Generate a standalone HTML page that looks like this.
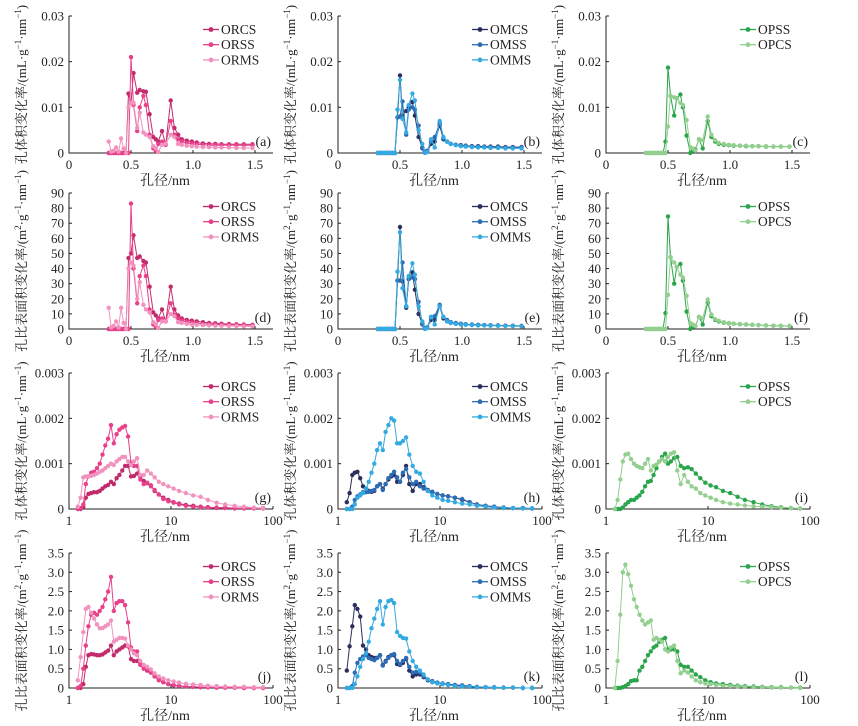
<!DOCTYPE html>
<html><head><meta charset="utf-8">
<style>
html,body{margin:0;padding:0;background:#fff;}
svg{display:block;}
text{font-family:"Liberation Serif","Noto Serif CJK SC",serif;fill:#231f20;}
</style></head>
<body>
<svg id="fig" width="858" height="726" viewBox="0 0 858 726" xmlns="http://www.w3.org/2000/svg"></svg>
<script>
// ---------- sub-nanometer pore sizes (nm) ----------
const xSub = [0.32,0.34,0.36,0.38,0.40,0.42,0.44,0.46,0.48,0.50,0.52,0.55,0.57,0.60,0.62,0.65,0.68,0.70,0.72,0.75,0.78,0.82,0.85,0.88,0.91,0.95,0.99,1.03,1.08,1.13,1.18,1.23,1.29,1.35,1.41,1.48];
// panel a: pore volume change rate (x1e-3 mL/g/nm)
const aORCS = [0,0,0,0,0,0,0,0,13,11,17.5,13.2,13.8,13.5,13.4,8.5,3.5,3,2.5,4.8,1.8,11.5,5.5,4,3,2.7,2.5,2.3,2.1,2.0,2.0,1.9,1.9,1.9,1.9,1.9];
const aORSS = [0,0,0,0,0,0,0,0,0,21,10.5,4.8,10,12.5,10.5,4,1,0.5,2,2.5,2,7,4,3,2.5,2.2,2,1.9,1.8,1.7,1.7,1.7,1.7,1.7,1.7,1.7];
const aORMS = [2.5,0.3,0.5,1.2,0.3,3.2,1,0,10,11,11,5.5,8.8,4.5,4,3.5,1.5,1,0.2,1.8,2,4,3.5,2,1.8,1.6,1.5,1.4,1.3,1.3,1.2,1.2,1.2,1.1,1.1,1.1];
// panel b
const bOMCS = [0,0,0,0,0,0,0,0,7.8,17,8.2,9.2,10,11.2,8.2,3.5,1.2,0.2,0.3,2,2.5,6,3,2.5,2,1.8,1.7,1.6,1.5,1.5,1.4,1.4,1.4,1.3,1.3,1.3];
const bOMSS = [0,0,0,0,0,0,0,0,7.8,8,11.3,4,9.5,10,9.5,6,1,0.3,0.5,2.5,3.5,6.5,3.2,2.5,2,1.8,1.6,1.5,1.4,1.4,1.3,1.3,1.3,1.2,1.2,1.2];
const bOMMS = [0,0,0,0,0,0,0,0,9.5,16,7.5,4.5,10.5,13,11.5,5,2,0,0.2,3,1.2,7,3.5,2.5,2,1.7,1.5,1.4,1.3,1.2,1.2,1.1,1.1,1.0,1.0,1.0];
// panel c
const cOPSS = [0,0,0,0,0,0,0,0,2.5,18.7,12.5,8.2,12,12.8,10,3.8,0,0.5,0.8,3,1,7,3.5,2.5,2,1.8,1.7,1.6,1.6,1.5,1.5,1.5,1.4,1.4,1.4,1.4];
const cOPCS = [0,0,0,0,0,0,0,0,0,5.8,12.5,12.2,12,11,10.5,7.2,1.3,1,0.5,3,2.8,8,4,2.8,2.2,2,1.8,1.7,1.6,1.6,1.5,1.5,1.5,1.4,1.4,1.4];
// panel d: specific surface area change rate (m2/g/nm)
const dORCS = [0,0,0,0,0,0,0,0,47,50,62,47,48,45,44,28,11,9,7,13,5,28,13,9,7,6,5.5,5,4.5,4,3.8,3.5,3.3,3.1,3,2.8];
const dORSS = [0,0,0,0,0,0,0,0,0,83,40,17,35,42,35,13,3,1.5,6,7,5,17,9.5,7,5.5,4.8,4.2,3.8,3.4,3.1,3,2.9,2.8,2.7,2.6,2.5];
const dORMS = [14,1,2,5,1,14,4,0,40,44,42,20,31,16,13,11,4.5,3,0.6,5,5,10,8.5,4.5,4,3.4,3,2.8,2.5,2.4,2.2,2.1,2,1.9,1.8,1.7];
// panel e
const eOMCS = [0,0,0,0,0,0,0,0,32,67.5,31.5,14,33,37.5,26,10,3.5,0.5,1,6,6,15,7,5,4,3.5,3.2,3,2.8,2.6,2.5,2.4,2.3,2.2,2.1,2];
const eOMSS = [0,0,0,0,0,0,0,0,32,32,44,15,33,34,33,18,3,0.8,1,8,8.5,16,8,6,4.5,4,3.5,3.2,3,2.8,2.6,2.5,2.4,2.2,2.1,2];
const eOMMS = [0,0,0,0,0,0,0,0,38,64,27,15,35,43.5,36,15,5,0,0.5,8,3,15,8,5,4,3.4,3,2.8,2.6,2.4,2.3,2.2,2.1,2,1.9,1.8];
// panel f
const fOPSS = [0,0,0,0,0,0,0,0,10.5,74.5,47.5,30,41,43,32,11.5,0,1.5,2,8,3,17.5,8.5,6,5,4.2,3.8,3.5,3.2,3,2.8,2.6,2.4,2.2,2.1,2];
const fOPCS = [0,0,0,0,0,0,0,0,0,22.5,47.5,44,41,36,34,22,4,3,2,8,7,19.5,9.5,6.5,5.5,4.5,4,3.6,3.3,3,2.8,2.6,2.4,2.2,2.1,2];
// ---------- mesopore sizes (nm, log axis) ----------
const xMeso = [1.22,1.3,1.38,1.46,1.55,1.65,1.76,1.88,2.0,2.13,2.27,2.42,2.58,2.75,2.93,3.12,3.33,3.55,3.8,4.05,4.33,4.65,5.0,5.4,5.85,6.35,6.9,7.6,8.4,9.4,10.6,12,14,16.5,19.5,23,28,34,42,52,65,80];
// panel g (x1e-3 mL/g/nm)
const gORCS = [0,0,0.05,0.25,0.33,0.35,0.37,0.37,0.40,0.45,0.50,0.53,0.60,0.55,0.68,0.75,0.85,0.95,0.95,0.72,0.73,0.78,0.72,0.62,0.57,0.52,0.4,0.32,0.25,0.2,0.15,0.12,0.09,0.07,0.05,0.04,0.03,0.03,0.02,0.02,0.02,0.02];
const gORSS = [0,0.02,0.1,0.55,0.72,0.8,0.82,0.9,1.0,1.2,1.4,1.55,1.85,1.45,1.65,1.75,1.8,1.83,1.6,1.02,0.95,0.95,0.65,0.55,0.58,0.5,0.42,0.32,0.22,0.17,0.14,0.1,0.07,0.05,0.04,0.03,0.02,0.02,0.01,0.01,0.01,0.01];
const gORMS = [0.05,0.25,0.7,0.72,0.72,0.73,0.75,0.78,0.82,0.85,0.9,0.95,1.0,0.97,1.05,1.1,1.15,1.15,1.05,0.97,1.05,1.12,0.75,0.75,0.85,0.78,0.7,0.6,0.55,0.5,0.45,0.4,0.35,0.3,0.27,0.2,0.14,0.1,0.07,0.05,0.03,0.02];
// panel h
const hOMCS = [0.15,0.35,0.75,0.8,0.82,0.68,0.5,0.45,0.4,0.38,0.4,0.5,0.55,0.45,0.55,0.65,0.72,0.75,0.6,0.6,0.75,0.95,0.55,0.4,0.55,0.55,0.48,0.42,0.38,0.33,0.3,0.28,0.25,0.2,0.15,0.1,0.07,0.05,0.03,0.02,0.02,0.01];
const hOMSS = [0,0,0.05,0.2,0.28,0.32,0.37,0.37,0.38,0.4,0.42,0.5,0.55,0.42,0.55,0.68,0.75,0.82,0.7,0.6,0.8,0.88,0.7,0.55,0.6,0.5,0.45,0.4,0.38,0.33,0.3,0.28,0.25,0.22,0.15,0.1,0.07,0.05,0.03,0.02,0.02,0.01];
const hOMMS = [0,0,0,0.1,0.25,0.3,0.35,0.45,0.6,0.8,1.0,1.3,1.45,1.3,1.7,1.85,2.0,1.95,1.45,1.45,1.5,1.58,1.2,0.95,0.82,0.78,0.6,0.4,0.3,0.25,0.2,0.18,0.15,0.12,0.1,0.07,0.05,0.03,0.02,0.02,0.01,0.01];
// panel i
const iOPSS = [0,0,0,0.03,0.1,0.15,0.2,0.2,0.25,0.3,0.38,0.5,0.6,0.62,0.75,0.9,1.05,1.15,1.22,1.0,1.05,1.12,1.15,0.95,0.9,0.92,0.88,0.78,0.68,0.58,0.52,0.48,0.4,0.35,0.27,0.2,0.15,0.1,0.06,0.04,0.02,0.01];
const iOPCS = [0,0.2,0.65,1.05,1.2,1.22,1.1,1.0,0.95,0.92,0.9,1.0,1.1,0.85,0.95,0.98,1.05,1.1,1.05,1.15,1.22,1.25,0.85,0.55,0.75,0.6,0.5,0.45,0.35,0.3,0.25,0.2,0.15,0.12,0.1,0.08,0.06,0.05,0.04,0.03,0.02,0.01];
// panel j (m2/g/nm)
const jORCS = [0,0,0.1,0.55,0.85,0.88,0.87,0.85,0.85,0.87,0.92,0.97,1.1,0.85,0.95,1.0,1.05,1.1,1.08,0.75,0.7,0.7,0.65,0.55,0.45,0.4,0.3,0.22,0.15,0.1,0.07,0.05,0.04,0.03,0.02,0.02,0.01,0.01,0.01,0,0,0];
const jORSS = [0,0.05,0.5,1.1,1.6,1.9,1.95,1.9,2.0,2.1,2.3,2.5,2.88,2.0,2.2,2.25,2.25,2.15,1.7,1.05,0.95,0.95,0.6,0.5,0.48,0.4,0.3,0.2,0.15,0.1,0.08,0.06,0.04,0.03,0.02,0.02,0.01,0.01,0.01,0,0,0];
const jORMS = [0.2,0.8,1.45,2.05,2.1,1.95,1.8,1.65,1.55,1.55,1.6,1.65,1.75,1.2,1.25,1.3,1.3,1.28,1.1,1.0,0.9,0.85,0.7,0.6,0.55,0.48,0.38,0.3,0.25,0.2,0.17,0.14,0.11,0.09,0.08,0.06,0.05,0.04,0.03,0.03,0.02,0.02];
// panel k
const kOMCS = [0.45,1.08,1.6,2.15,2.05,1.85,1.1,1.0,0.85,0.8,0.78,0.78,0.85,0.6,0.7,0.8,0.85,0.85,0.62,0.6,0.65,0.75,0.45,0.3,0.35,0.35,0.28,0.2,0.15,0.13,0.1,0.08,0.06,0.05,0.03,0.02,0.02,0.01,0.01,0.01,0,0];
const kOMSS = [0,0,0.05,0.4,0.65,0.75,0.82,0.85,0.78,0.75,0.72,0.78,0.85,0.58,0.68,0.78,0.85,0.88,0.7,0.62,0.7,0.78,0.55,0.4,0.42,0.4,0.3,0.22,0.18,0.14,0.12,0.1,0.08,0.07,0.05,0.03,0.02,0.02,0.01,0.01,0,0];
const kOMMS = [0,0,0,0.1,0.3,0.55,0.75,0.9,1.2,1.55,1.8,2.05,2.25,1.65,2.1,2.25,2.28,2.2,1.45,1.35,1.3,1.28,0.95,0.7,0.55,0.45,0.35,0.22,0.15,0.12,0.1,0.08,0.05,0.04,0.03,0.02,0.02,0.01,0.01,0.01,0,0];
// panel l
const lOPSS = [0,0,0,0.02,0.05,0.1,0.18,0.2,0.2,0.45,0.55,0.7,0.85,0.95,1.05,1.1,1.2,1.25,1.3,1.0,1.0,1.0,0.95,0.6,0.55,0.55,0.45,0.35,0.28,0.2,0.15,0.12,0.1,0.08,0.06,0.05,0.04,0.03,0.02,0.02,0.01,0.01];
const lOPCS = [0,0.7,1.9,3.0,3.2,2.95,2.65,2.3,2.1,1.9,1.75,1.65,1.7,1.75,1.25,1.3,1.25,1.2,1.0,0.95,1.05,1.1,0.7,0.38,0.45,0.4,0.3,0.2,0.15,0.12,0.1,0.08,0.06,0.05,0.04,0.03,0.02,0.02,0.01,0.01,0.01,0];
// ---------- tick labels ----------
const xTicksLin = [0,0.5,1.0,1.5];
const xTickLabelsLin = ["0","0.5","1.0","1.5"];
const xTicksLog = [1,10,100];
const xTickLabelsLog = ["1","10","100"];
const yTicksVol = [0,10,20,30];
const yTickLabelsVol = ["0","0.01","0.02","0.03"];
const yTicksArea = [0,10,20,30,40,50,60,70,80,90];
const yTickLabelsArea = ["0","10","20","30","40","50","60","70","80","90"];
const yTicksVolM = [0,1,2,3];
const yTickLabelsVolM = ["0","0.001","0.002","0.003"];
const yTicksAreaM = [0,0.5,1,1.5,2,2.5,3,3.5];
const yTickLabelsAreaM = ["0","0.5","1.0","1.5","2.0","2.5","3.0","3.5"];
const seriesNamesR = ["ORCS","ORSS","ORMS"];
const seriesNamesM = ["OMCS","OMSS","OMMS"];
const seriesNamesP = ["OPSS","OPCS"];

const colR = ["#c32a6c","#e8408a","#f193be"];
const colM = ["#2b2f5e","#2d6cb5","#33aae0"];
const colP = ["#2aa54b","#93cf8e"];
const NS = "http://www.w3.org/2000/svg";
const svg = document.getElementById('fig');
function el(tag, attrs, parent){const e=document.createElementNS(NS,tag);for(const k in attrs)e.setAttribute(k,attrs[k]);(parent||svg).appendChild(e);return e;}

const colX = [69,338,606];
const rowY = [[16,153],[193,329],[373,509],[553,688]];
const W = 204;

const panels = [
 {id:'a',c:0,r:0,log:false,ymax:30,yt:yTicksVol,yl:yTickLabelsVol,names:seriesNamesR,cols:colR,x:xSub,s:[aORCS,aORSS,aORMS],t:'vol'},
 {id:'b',c:1,r:0,log:false,ymax:30,yt:yTicksVol,yl:yTickLabelsVol,names:seriesNamesM,cols:colM,x:xSub,s:[bOMCS,bOMSS,bOMMS],t:'vol'},
 {id:'c',c:2,r:0,log:false,ymax:30,yt:yTicksVol,yl:yTickLabelsVol,names:seriesNamesP,cols:colP,x:xSub,s:[cOPSS,cOPCS],t:'vol'},
 {id:'d',c:0,r:1,log:false,ymax:90,yt:yTicksArea,yl:yTickLabelsArea,names:seriesNamesR,cols:colR,x:xSub,s:[dORCS,dORSS,dORMS],t:'area'},
 {id:'e',c:1,r:1,log:false,ymax:90,yt:yTicksArea,yl:yTickLabelsArea,names:seriesNamesM,cols:colM,x:xSub,s:[eOMCS,eOMSS,eOMMS],t:'area'},
 {id:'f',c:2,r:1,log:false,ymax:90,yt:yTicksArea,yl:yTickLabelsArea,names:seriesNamesP,cols:colP,x:xSub,s:[fOPSS,fOPCS],t:'area'},
 {id:'g',c:0,r:2,log:true,ymax:3,yt:yTicksVolM,yl:yTickLabelsVolM,names:seriesNamesR,cols:colR,x:xMeso,s:[gORCS,gORSS,gORMS],t:'vol'},
 {id:'h',c:1,r:2,log:true,ymax:3,yt:yTicksVolM,yl:yTickLabelsVolM,names:seriesNamesM,cols:colM,x:xMeso,s:[hOMCS,hOMSS,hOMMS],t:'vol'},
 {id:'i',c:2,r:2,log:true,ymax:3,yt:yTicksVolM,yl:yTickLabelsVolM,names:seriesNamesP,cols:colP,x:xMeso,s:[iOPSS,iOPCS],t:'vol'},
 {id:'j',c:0,r:3,log:true,ymax:3.5,yt:yTicksAreaM,yl:yTickLabelsAreaM,names:seriesNamesR,cols:colR,x:xMeso,s:[jORCS,jORSS,jORMS],t:'area'},
 {id:'k',c:1,r:3,log:true,ymax:3.5,yt:yTicksAreaM,yl:yTickLabelsAreaM,names:seriesNamesM,cols:colM,x:xMeso,s:[kOMCS,kOMSS,kOMMS],t:'area'},
 {id:'l',c:2,r:3,log:true,ymax:3.5,yt:yTicksAreaM,yl:yTickLabelsAreaM,names:seriesNamesP,cols:colP,x:xMeso,s:[lOPSS,lOPCS],t:'area'}
];

panels.forEach(p=>{
  const x0=colX[p.c], top=rowY[p.r][0], bot=rowY[p.r][1];
  const g=el('g',{});
  
  
  const sx = p.log ? (v=>x0+Math.log10(v)*W/2) : (v=>x0+v*124);
  const sy = v=>bot-(v/p.ymax)*(bot-top);
  // axes
  const ax=el('path',{d:`M${x0},${top} V${bot} H${x0+W}`,stroke:'#231f20','stroke-width':1,fill:'none'},g);
  
  
  p.yt.forEach((v,i)=>{
    const y=sy(v);
    el('line',{x1:x0,x2:x0+3,y1:y,y2:y,stroke:'#231f20','stroke-width':1},g);
    const t=el('text',{x:x0-5,y:y+4.5,'text-anchor':'end','font-size':13},g);
    
    
    t.textContent=p.yl[i];
  });
  const xt=p.log?xTicksLog:xTicksLin, xl=p.log?xTickLabelsLog:xTickLabelsLin;
  xt.forEach((v,i)=>{
    const x=sx(v);
    el('line',{x1:x,x2:x,y1:bot,y2:bot-3,stroke:'#231f20','stroke-width':1},g);
    const t=el('text',{x:x,y:bot+16,'text-anchor':'middle','font-size':13},g);
    
    
    t.textContent=xl[i];
  });
  const xtitle=el('text',{x:x0+W/2-6,y:bot+32,'text-anchor':'middle','font-size':14},g);
  
  
  xtitle.textContent='孔径/nm';
  // y title
  const cy=(top+bot)/2, tx=x0-46;
  const yt=el('text',{x:tx,y:cy,'text-anchor':'middle','font-size':13,transform:`rotate(-90 ${tx} ${cy})`,'dominant-baseline':'middle'},g);
  
  
  if(p.t==='vol'){
    yt.innerHTML='孔体积变化率/(mL·g<tspan dy="-4" font-size="9">−1</tspan><tspan dy="4">·nm</tspan><tspan dy="-4" font-size="9">−1</tspan><tspan dy="4">)</tspan>';
  } else {
    yt.innerHTML='孔比表面积变化率/(m<tspan dy="-4" font-size="9">2</tspan><tspan dy="4">·g</tspan><tspan dy="-4" font-size="9">−1</tspan><tspan dy="4">·nm</tspan><tspan dy="-4" font-size="9">−1</tspan><tspan dy="4">)</tspan>';
  }
  // panel letter
  const pl=el('text',{x:x0+W-2,y:bot-7,'text-anchor':'end','font-size':14},g);
  
  
  pl.textContent='('+p.id+')';
  // series
  p.s.forEach((vals,si)=>{
    const c=p.cols[si];
    const sg=el('g',{},g);
    
    
    let d='';
    vals.forEach((v,i)=>{d+=(i?'L':'M')+sx(p.x[i]).toFixed(1)+','+sy(v).toFixed(1);});
    el('path',{d:d,stroke:c,'stroke-width':1,fill:'none'},sg);
    vals.forEach((v,i)=>{
      const pt=el('circle',{cx:sx(p.x[i]).toFixed(1),cy:sy(v).toFixed(1),r:2.2,fill:c},sg);
      
      
    });
  });
  // legend
  p.names.forEach((n,i)=>{
    const ly=top+13.5+i*15.2, lx=x0+134;
    const lg=el('g',{},g);
    
    
    el('line',{x1:lx,x2:lx+16,y1:ly,y2:ly,stroke:p.cols[i],'stroke-width':1.3},lg);
    el('circle',{cx:lx+8,cy:ly,r:2.4,fill:p.cols[i]},lg);
    const t=el('text',{x:lx+18,y:ly+4.5,'font-size':13.5},lg);
    t.textContent=n;
  });
});
</script>
</body></html>
